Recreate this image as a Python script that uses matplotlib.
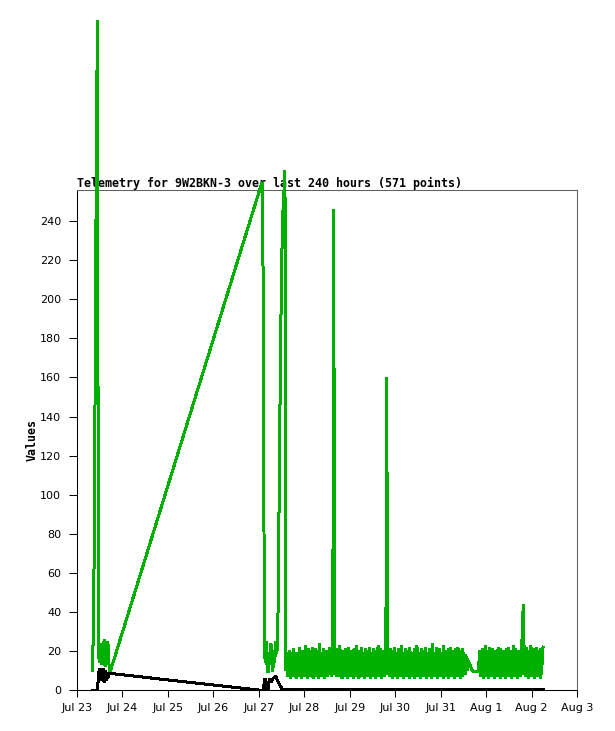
import pandas as pd
import matplotlib
matplotlib.use('Agg')
import matplotlib.pyplot as plt
import matplotlib.dates as mdates

BASE = pd.Timestamp('2024-07-23 00:00')
TITLE = 'Telemetry for 9W2BKN-3 over last 240 hours (571 points)'

# hours after Jul 23 00:00
burst1_hours = [8.1, 8.6, 9.1, 9.7, 10.3, 10.8, 11.3, 11.8, 12.3, 12.8,
                13.3, 13.8, 14.3, 14.8, 15.3, 15.8, 16.3, 16.8, 17.4]
burst1_green = [10, 28, 73, 180, 289, 343, 20, 14, 24, 13,
                22, 15, 26, 12, 21, 16, 25, 14, 9]
burst1_black = [0, 0, 0, 0, 0, 0, 7, 11, 5, 11,
                8, 11, 4, 10, 5, 9, 6, 8, 8.5]

burst2_hours = [97.7, 98.4, 98.9, 99.4, 99.9, 100.4, 100.9, 101.4, 101.9, 102.4,
                102.9, 103.4, 103.9, 104.4, 104.9, 105.4, 105.9, 106.4, 106.9, 107.6,
                108.1, 108.6, 109.1, 109.8, 110.3]
burst2_green = [260, 201, 22, 14, 25, 11, 9, 19, 13, 24,
                15, 9.5, 20, 14, 25, 19, 22, 60, 120, 184,
                220, 242, 252, 266, 10]

black2_hours = [95.6, 98.2, 99.3, 100.1, 100.9, 101.5, 102.5, 103.5, 104.9, 106.5, 108.3, 246.1]
black2_vals = [0, 0, 6, 0.5, 0, 5.6, 4, 6, 7, 3.5, 0.5, 0.5]

# dense reporting, Jul 27 14:48 -> Jul 31 15:30
dense1_span = (110.8, 207.5)
dense1_green = [
    19, 7, 18, 8, 20, 6, 17, 9, 19, 7, 21, 8, 16, 6, 19, 10, 18, 7, 22, 8,
    17, 6, 20, 9, 19, 7, 23, 8, 18, 6, 21, 9, 20, 7, 17, 8, 22, 6, 19, 9,
    21, 7, 18, 8, 20, 6, 24, 9, 19, 7, 16, 9, 21, 6, 18, 8, 20, 7, 17, 10,
    22, 8, 19, 7, 20, 9, 246, 127, 8, 18, 7, 21, 8, 17, 7, 23, 9, 19, 6, 20,
    8, 18, 7, 21, 9, 19, 6, 22, 8, 17, 7, 20, 9, 18, 6, 21, 8, 19, 7, 23,
    9, 18, 6, 20, 8, 22, 7, 19, 9, 17, 6, 21, 8, 20, 7, 18, 9, 22, 6, 19,
    8, 17, 7, 21, 9, 20, 6, 18, 8, 23, 7, 19, 9, 21, 6, 20, 8, 18, 7, 22,
    9, 160, 84, 8, 19, 7, 21, 9, 18, 6, 20, 8, 22, 7, 19, 9, 17, 6, 21, 8,
    20, 7, 23, 9, 18, 6, 19, 8, 21, 7, 20, 9, 18, 6, 22, 8, 19, 7, 17, 10,
    21, 6, 20, 8, 23, 7, 18, 9, 19, 6, 21, 8, 20, 7, 18, 9, 22, 6, 19, 8,
    17, 7, 21, 9, 20, 6, 24, 8, 19, 7, 18, 9, 22, 6, 20, 8, 21, 7, 19, 9,
    18, 6, 23, 8, 20, 7, 19, 9, 21, 6, 18, 8, 22, 7, 20, 9, 17, 6, 21, 8,
    19, 7, 22, 9, 18, 6, 20, 8, 21, 7, 19, 9, 18, 8, 17, 10, 16, 12, 14, 13,
]
gap_hours = [208.6, 209.4, 212.0]
gap_green = [10, 9.3, 9.3]

# Jul 31 20:30 -> Aug 2 06:06
dense2_span = (212.5, 246.1)
dense2_green = [
    20, 7, 18, 9, 21, 6, 19, 8, 23, 7, 17, 9, 20, 6, 22, 8, 18, 7, 21, 9,
    19, 6, 20, 8, 17, 7, 22, 9, 18, 6, 21, 8, 19, 7, 20, 9, 18, 6, 21, 8,
    22, 7, 19, 9, 20, 6, 18, 8, 23, 7, 21, 9, 19, 6, 20, 8, 18, 7, 9, 26,
    8, 44, 29, 8, 19, 7, 22, 9, 18, 6, 20, 8, 23, 7, 17, 9, 21, 6, 19, 8,
    22, 7, 20, 9, 18, 6, 21, 8, 19, 22,
]


def to_time(hours):
    return BASE + pd.to_timedelta(hours, unit='h')


def build_series():
    d1 = pd.date_range(to_time(dense1_span[0]), to_time(dense1_span[1]), periods=len(dense1_green))
    d2 = pd.date_range(to_time(dense2_span[0]), to_time(dense2_span[1]), periods=len(dense2_green))
    green = pd.concat([
        pd.Series(burst1_green, index=to_time(burst1_hours)),
        pd.Series(burst2_green, index=to_time(burst2_hours)),
        pd.Series(dense1_green, index=d1),
        pd.Series(gap_green, index=to_time(gap_hours)),
        pd.Series(dense2_green, index=d2),
    ])
    black = pd.concat([
        pd.Series(burst1_black, index=to_time(burst1_hours)),
        pd.Series(black2_vals, index=to_time(black2_hours)),
    ])
    return green, black


def plot_telemetry(green, black):
    fig = plt.figure(figsize=(6.15, 7.31), dpi=100)
    ax = fig.add_axes([77 / 615, 1 - 690 / 731, 500 / 615, 500 / 731])

    mono = dict(family='DejaVu Sans Mono', weight='bold', size=8.4)

    ax.plot(green.index, green.values, color='#00b000', lw=1.44,
            clip_on=False, zorder=4, antialiased=False, solid_joinstyle='bevel')
    ax.plot(black.index, black.values, color='black', lw=1.44,
            clip_on=False, zorder=5, antialiased=False, solid_joinstyle='bevel')

    ax.set_xlim(BASE, BASE + pd.Timedelta(days=11))
    ax.set_ylim(0, 256)
    ax.set_yticks(range(0, 241, 20))
    ax.xaxis.set_major_locator(mdates.DayLocator())
    ax.xaxis.set_major_formatter(mdates.DateFormatter('%b %-d'))

    for side in ['left', 'bottom']:
        ax.spines[side].set_color('black')
    for side in ['top', 'right']:
        ax.spines[side].set_color('#606060')
    for sp in ax.spines.values():
        sp.set_linewidth(0.75)

    ax.tick_params(axis='y', direction='out', length=5.8, width=0.75, pad=5.5, labelsize=8)
    ax.tick_params(axis='x', direction='out', length=5, width=0.75, pad=4.3, labelsize=8)

    ax.set_title(TITLE, loc='left', pad=2, fontdict=mono)
    ax.set_ylabel('Values', fontdict=mono)
    ax.yaxis.set_label_coords(-0.077, 0.5)

    fig.savefig('out.png', dpi=100)


def main():
    green, black = build_series()
    plot_telemetry(green, black)


if __name__ == '__main__':
    main()
